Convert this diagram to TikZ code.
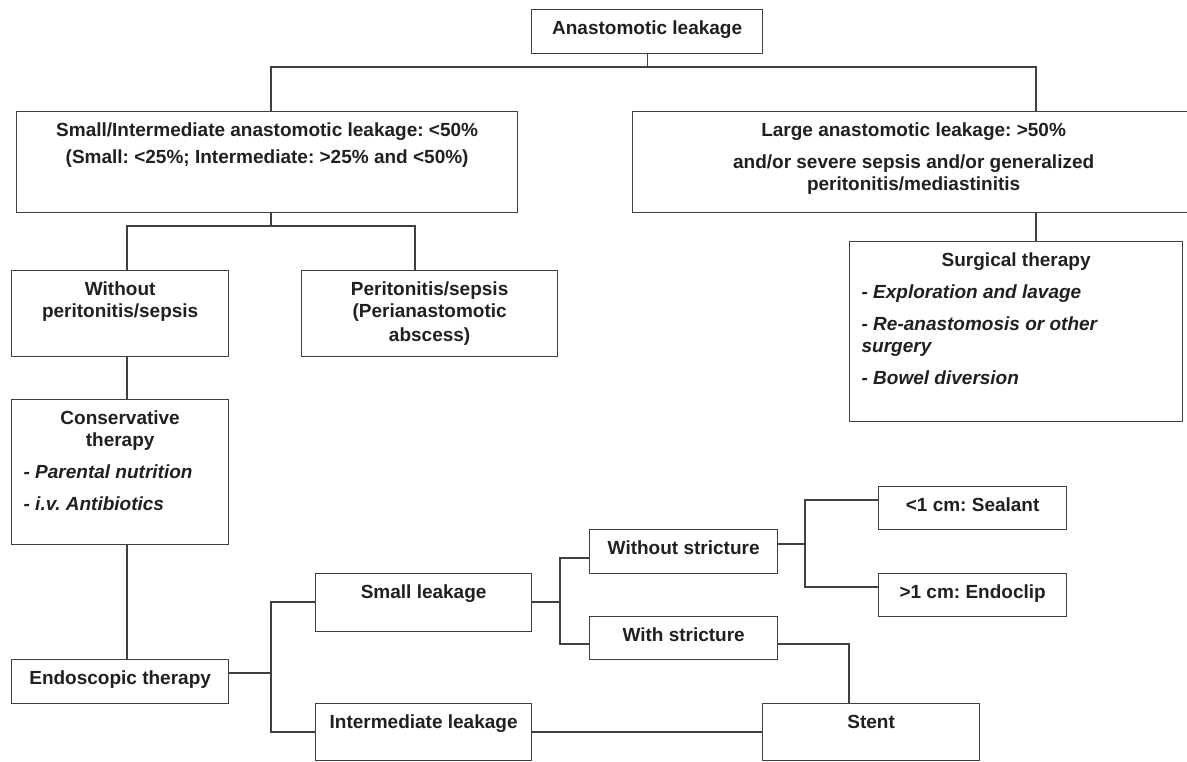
\documentclass[tikz,border=0pt]{standalone}
\usepackage{fontspec}
\setmainfont{Liberation Sans}
\frenchspacing

\definecolor{linegray}{HTML}{404040}
\definecolor{inkblack}{HTML}{231F20}

% box content: width, height, text (top aligned, first baseline 25pt down)
\newcommand{\boxtext}[3]{\parbox[c][#2][t]{#1}{\centering\rule{0pt}{25pt}#3}}
\newcommand{\itemlist}{\par\raggedright\leftskip=12pt\itshape}
\newcommand{\itemgap}{\par\vspace{10pt}}

\begin{document}
\begin{tikzpicture}[
    x=1pt, y=-1pt, % work in pixels, y pointing down
    box/.style={draw=linegray, line width=1.3pt, inner sep=0pt, anchor=north west,
                text=inkblack, font=\fontsize{19}{22}\selectfont\bfseries}, % boxes
    link/.style={draw=linegray, line width=1.3pt} % connector lines
]
    \useasboundingbox (0,0) rectangle (1187,761);

    % Top level
    \node[box] (top) at (531,9) {\boxtext{231pt}{44pt}{Anastomotic leakage}};

    % Leakage size
    \node[box] (smallint) at (16,111) {\boxtext{501pt}{101pt}{Small/Intermediate anastomotic leakage: <50\%\par\vspace{5pt}(Small: <25\%; Intermediate: >25\% and <50\%)}};
    \node[box] (large) at (632,111) {\boxtext{562pt}{101pt}{Large anastomotic leakage: >50\%\itemgap and/or severe sepsis and/or generalized\\peritonitis/mediastinitis}};

    % Left branch
    \node[box] (without) at (11,270) {\boxtext{217pt}{86pt}{Without\\peritonitis/sepsis}};
    \node[box] (periton) at (301,270) {\boxtext{256pt}{86pt}{Peritonitis/sepsis\\(Perianastomotic\\[2pt]abscess)}};
    \node[box] (conserv) at (11,399) {\boxtext{217pt}{145pt}{Conservative\\therapy\itemlist\itemgap- Parental nutrition\itemgap- i.v. Antibiotics}};
    \node[box] (endo) at (11,659) {\boxtext{217pt}{44pt}{Endoscopic therapy}};

    % Right branch
    \node[box] (surgical) at (849,241) {\boxtext{333pt}{180pt}{Surgical therapy\itemlist\itemgap- Exploration and lavage\itemgap- Re-anastomosis or other\\surgery\itemgap- Bowel diversion}};

    % Endoscopic options
    \node[box] (smallleak) at (315,573) {\boxtext{216pt}{58pt}{Small leakage}};
    \node[box] (interleak) at (315,703) {\boxtext{216pt}{57pt}{Intermediate leakage}};
    \node[box] (withoutstr) at (589,529) {\boxtext{188pt}{44pt}{Without stricture}};
    \node[box] (withstr) at (589,616) {\boxtext{188pt}{43pt}{With stricture}};
    \node[box] (sealant) at (878,486) {\boxtext{188pt}{43pt}{<1 cm: Sealant}};
    \node[box] (endoclip) at (878,573) {\boxtext{188pt}{43pt}{>1 cm: Endoclip}};
    \node[box] (stent) at (762,703) {\boxtext{217pt}{57pt}{Stent}};

    % Connectors
    \draw[link] (top.south) -- (top.south |- 0,67);
    \draw[link] (smallint.north -| 271,0) |- (1036,67) -- (large.north -| 1036,0);
    \draw[link] (smallint.south -| 271,0) -- (271,226);
    \draw[link] (without.north -| 127,0) |- (415,226) -- (periton.north -| 415,0);
    \draw[link] (large.south -| 1036,0) -- (surgical.north -| 1036,0);
    \draw[link] (without.south -| 127,0) -- (conserv.north -| 127,0);
    \draw[link] (conserv.south -| 127,0) -- (endo.north -| 127,0);
    \draw[link] (endo.east |- 0,673) -- (271,673);
    \draw[link] (smallleak.west |- 0,602) -| (271,732) -- (interleak.west |- 0,732);
    \draw[link] (smallleak.east |- 0,602) -- (560,602);
    \draw[link] (withoutstr.west |- 0,558) -| (560,644) -- (withstr.west |- 0,644);
    \draw[link] (withoutstr.east |- 0,544) -- (805,544);
    \draw[link] (sealant.west |- 0,500) -| (805,587) -- (endoclip.west |- 0,587);
    \draw[link] (withstr.east |- 0,644) -| (stent.north -| 849,0);
    \draw[link] (interleak.east |- 0,732) -- (stent.west |- 0,732);

\end{tikzpicture}
\end{document}
